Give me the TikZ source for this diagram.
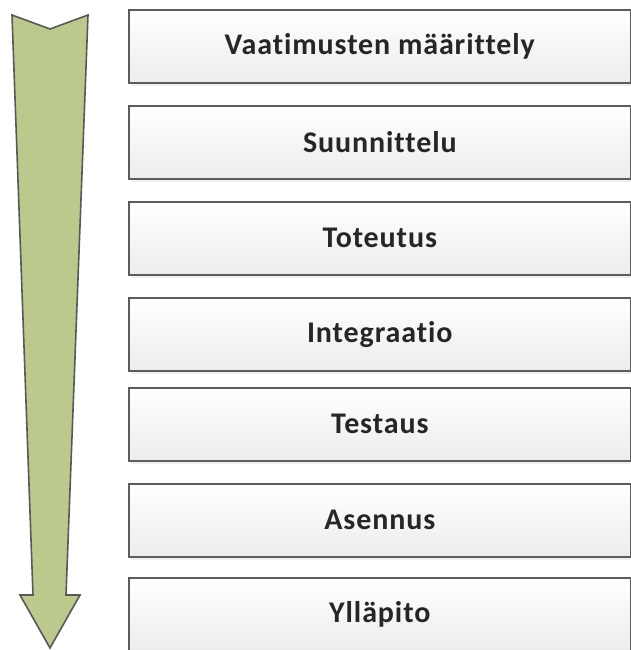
\documentclass[tikz,border=0pt]{standalone}
\usepackage{fontspec}
\setmainfont{Carlito}[LetterSpace=3, Ligatures=NoCommon]
\usetikzlibrary{shadows}
\definecolor{arrowgreen}{RGB}{187,201,141}
\definecolor{arrowline}{RGB}{88,88,88}
\definecolor{boxline}{RGB}{92,92,92}
\definecolor{boxbottom}{RGB}{236,236,236}
\tikzset{
  phase/.style={
    rectangle, anchor=north west, draw=boxline, line width=1.6pt,
    top color=white, bottom color=boxbottom,
    drop shadow={opacity=0.12, shadow xshift=2pt, shadow yshift=-3pt},
    font=\bfseries\fontsize{30}{32}\selectfont, text=black!85,
    inner sep=0pt, minimum width=502pt, minimum height=73pt},
}

\begin{document}
\begin{tikzpicture}[x=1pt, y=-1pt]
\useasboundingbox (0,0) rectangle (630,650);

%% Big downward arrow on the left
\draw[arrowline, line width=1.6pt, fill=arrowgreen, line join=miter]
  (12,15) -- (50,29) -- (88,15) -- (66,595) -- (80,595)
  -- (50,648) -- (20,595) -- (33,595) -- cycle;

%% == PHASES (top to bottom) ==================================================
\node[phase] (req)   at (128,  9) {Vaatimusten määrittely};
\node[phase] (design) at (128,105) {Suunnittelu};
\node[phase] (impl)  at (128,201) {Toteutus};
\node[phase] (integ) at (128,297) {Integraatio};
\node[phase] (test)  at (128,387) {Testaus};
\node[phase] (inst)  at (128,483) {Asennus};
\node[phase] (maint) at (128,577) {Ylläpito};
\end{tikzpicture}
\end{document}
